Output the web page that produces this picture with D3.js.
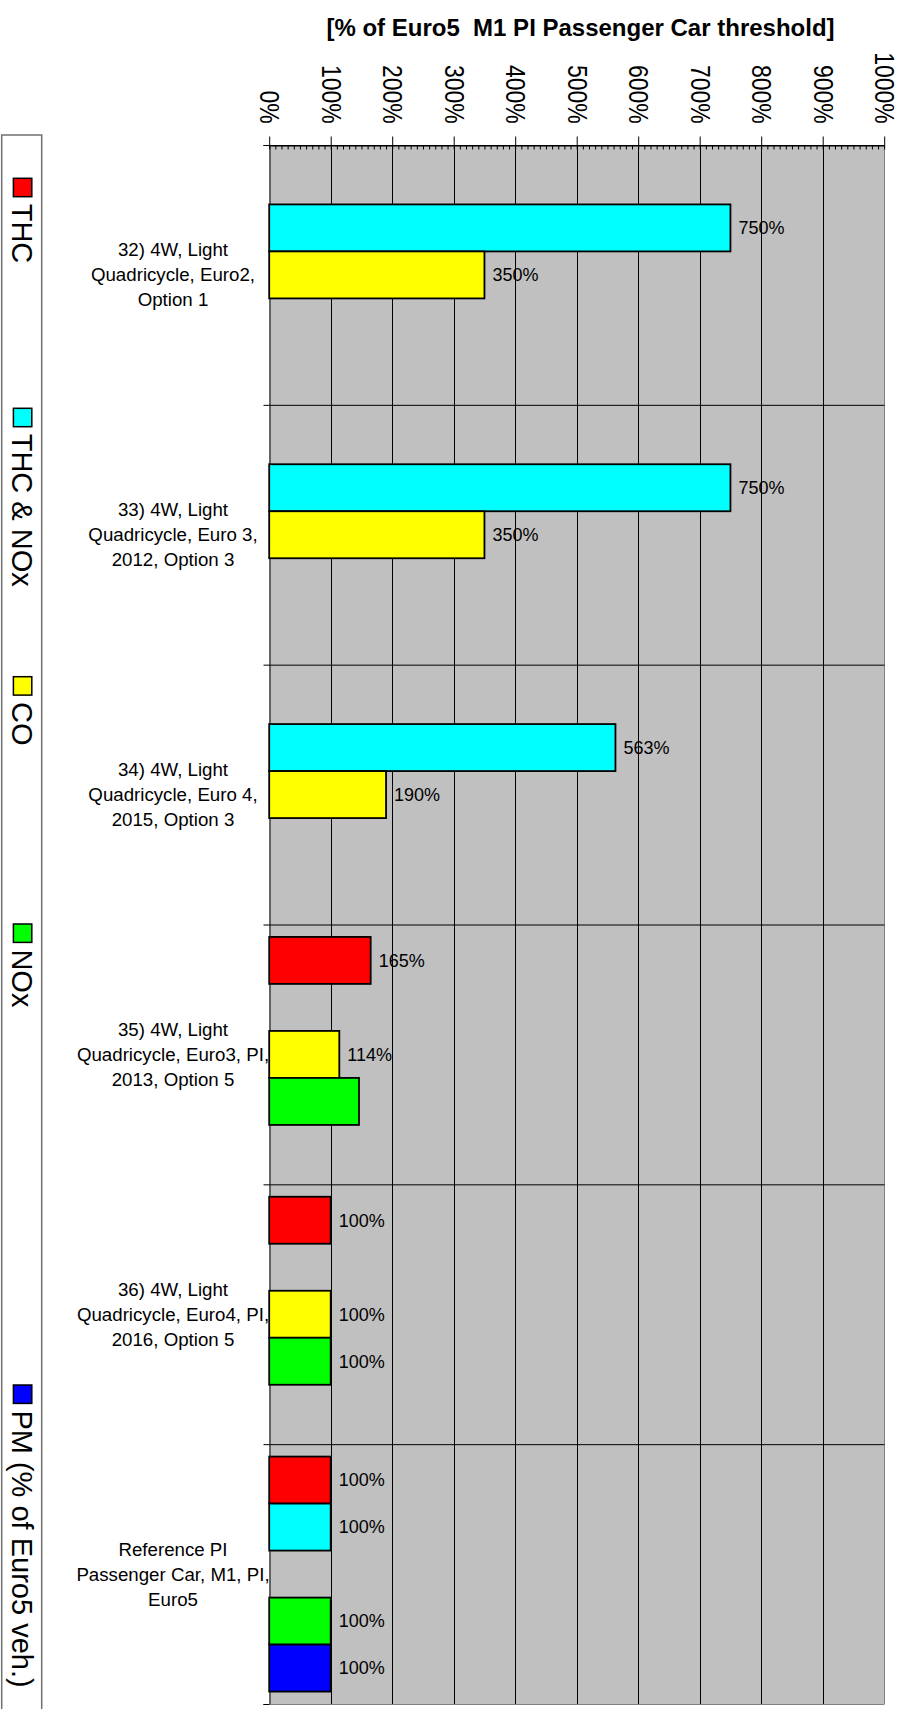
<!DOCTYPE html>
<html>
<head>
<meta charset="utf-8">
<script src="https://cdn.jsdelivr.net/npm/d3@7"></script>
<style>
  html, body { margin: 0; padding: 0; background: #ffffff; }
  svg { display: block; font-family: "Liberation Sans", Arial, sans-serif; }
</style>
</head>
<body>
<svg id="chart" width="906" height="1709"></svg>
<script>
// ---- data ----
const categories = ["c32", "c33", "c34", "c35", "c36", "ref"];
const categoryLines = [
  ["32) 4W, Light", "Quadricycle, Euro2,", "Option 1"],
  ["33) 4W, Light", "Quadricycle, Euro 3,", "2012, Option 3"],
  ["34) 4W, Light", "Quadricycle, Euro 4,", "2015, Option 3"],
  ["35) 4W, Light", "Quadricycle, Euro3, PI,", "2013, Option 5"],
  ["36) 4W, Light", "Quadricycle, Euro4, PI,", "2016, Option 5"],
  ["Reference PI", "Passenger Car, M1, PI,", "Euro5"]
];
const seriesNames = ["THC", "THC & NOx", "CO", "NOx", "PM (% of Euro5 veh.)"];
const seriesColors = ["#ff0000", "#00ffff", "#ffff00", "#00ff00", "#0000ff"];

// values in % of the Euro5 M1 PI passenger car threshold (null = not regulated)
const thc     = [null, null, null, 165, 100, 100];
const thcNox  = [750, 750, 563, null, null, 100];
const co      = [350, 350, 190, 114, 100, null];
const nox     = [null, null, null, 146, 100, 100];
const pm      = [null, null, null, null, null, 100];
// bars drawn without a value label: [series index, category index]
const unlabelled = [[3, 3]];

const xTicks = [0, 100, 200, 300, 400, 500, 600, 700, 800, 900, 1000];
const axisTitle = "[% of Euro5  M1 PI Passenger Car threshold]";

// ---- layout ----
const plot = { left: 269.2, right: 884.2, top: 145, bottom: 1704 };
const legendSwatchTops = [178.3, 408.3, 676.7, 924, 1385];

const seriesValues = [thc, thcNox, co, nox, pm];
const rows = [];
seriesValues.forEach((vals, s) => {
  vals.forEach((v, c) => {
    if (v != null) rows.push({ s, c, v,
      label: !unlabelled.some(u => u[0] === s && u[1] === c) });
  });
});

const svg = d3.select("#chart");

const x = d3.scaleLinear().domain([0, 1000]).range([plot.left, plot.right]);
const y = d3.scaleBand().domain(categories).range([plot.top, plot.bottom]).padding(0);
const ys = d3.scaleBand().domain(d3.range(seriesNames.length))
  .range([0, y.bandwidth()]).paddingInner(0).paddingOuter(0.264);
const yBound = d3.scaleLinear().domain([0, categories.length]).range([plot.top, plot.bottom]);

// plot background
svg.append("rect")
  .attr("x", plot.left).attr("y", plot.top)
  .attr("width", plot.right - plot.left).attr("height", plot.bottom - plot.top)
  .attr("fill", "#c0c0c0");

// vertical gridlines
svg.append("g").selectAll("line").data(xTicks.slice(1)).join("line")
  .attr("x1", d => Math.round(x(d)) + 0.5).attr("x2", d => Math.round(x(d)) + 0.5)
  .attr("y1", plot.top).attr("y2", plot.bottom)
  .attr("stroke", d => d === 1000 ? "#808080" : "#000").attr("stroke-width", 1);

// horizontal category boundary lines, with outward ticks on the left
svg.append("g")
  .attr("transform", `translate(${Math.round(plot.left) + 0.5},0)`)
  .call(d3.axisLeft(yBound).tickValues(d3.range(categories.length + 1))
    .tickSize(6).tickFormat(""))
  .call(g => g.select(".domain").attr("stroke", "#000"))
  .call(g => g.selectAll(".tick line").attr("stroke", "#000"))
  .call(g => g.selectAll(".tick").append("line")
    .attr("x1", 0).attr("x2", plot.right - plot.left)
    .attr("stroke", d => d === categories.length ? "#808080" : "#000"));

// bars
svg.append("g").selectAll("rect").data(rows).join("rect")
  .attr("x", x(0))
  .attr("y", d => y(categories[d.c]) + ys(d.s))
  .attr("width", d => x(d.v) - x(0))
  .attr("height", ys.bandwidth())
  .attr("fill", d => seriesColors[d.s])
  .attr("stroke", "#000").attr("stroke-width", 1.8);

// value labels
svg.append("g").selectAll("text").data(rows.filter(d => d.label)).join("text")
  .attr("x", d => x(d.v) + 8)
  .attr("y", d => y(categories[d.c]) + ys(d.s) + ys.bandwidth() / 2)
  .attr("dy", "0.35em")
  .attr("font-size", 18).attr("fill", "#000")
  .text(d => d.v + "%");

// category labels
const catG = svg.append("g").selectAll("text").data(categories).join("text")
  .attr("text-anchor", "middle").attr("font-size", 18.7).attr("fill", "#000");
catG.each(function (d, i) {
  const lines = categoryLines[i];
  const cy = y(d) + y.bandwidth() / 2;
  const lh = 25;
  d3.select(this).selectAll("tspan").data(lines).join("tspan")
    .attr("x", 173)
    .attr("y", (l, j) => cy + (j - (lines.length - 1) / 2) * lh)
    .attr("dy", "0.35em")
    .text(l => l);
});

// top axis: major ticks with rotated labels
svg.append("g")
  .attr("transform", `translate(0,${plot.top + 0.5})`)
  .call(d3.axisTop(x).tickValues(xTicks).tickSize(9).tickSizeOuter(0)
    .tickFormat(d => d + "%"))
  .call(g => g.select(".domain").attr("stroke", "#000"))
  .call(g => g.selectAll(".tick line").attr("stroke", "#000"))
  .call(g => g.selectAll(".tick text")
    .attr("transform", "rotate(90) scale(1,1.2)")
    .attr("x", -(plot.top - 123.3)).attr("y", 0).attr("dy", "0.35em")
    .attr("text-anchor", "end")
    .attr("font-size", 23).attr("font-family", "Liberation Sans, Arial, sans-serif")
    .attr("fill", "#000"));

// top axis: minor ticks pointing into the plot
svg.append("g")
  .attr("transform", `translate(0,${plot.top + 0.5})`)
  .call(d3.axisTop(x).tickValues(d3.range(0, 1001, 10)).tickSize(-4).tickFormat(""))
  .call(g => g.select(".domain").remove())
  .call(g => g.selectAll(".tick line").attr("stroke", "#000"));

// axis title
svg.append("text")
  .attr("x", 580.5).attr("y", 36)
  .attr("text-anchor", "middle")
  .attr("xml:space", "preserve")
  .style("white-space", "pre")
  .attr("font-size", 24).attr("font-weight", "bold").attr("fill", "#000")
  .text(axisTitle);

// legend (vertical strip, entries rotated)
const leg = svg.append("g");
leg.append("rect")
  .attr("x", 1.7).attr("y", 135).attr("width", 40).attr("height", 1600)
  .attr("fill", "#fff").attr("stroke", "#707070").attr("stroke-width", 1.5);
const swatch = 18.4;
const entries = leg.selectAll("g.entry").data(seriesNames).join("g").attr("class", "entry");
entries.append("rect")
  .attr("x", 13.4).attr("y", (d, i) => legendSwatchTops[i])
  .attr("width", swatch).attr("height", swatch)
  .attr("fill", (d, i) => seriesColors[i])
  .attr("stroke", "#000").attr("stroke-width", 1.5);
entries.append("text")
  .attr("transform", (d, i) => `translate(11.7,${legendSwatchTops[i] + swatch + 7}) rotate(90)`)
  .attr("font-size", 29).attr("fill", "#000")
  .text(d => d);
</script>
</body>
</html>
